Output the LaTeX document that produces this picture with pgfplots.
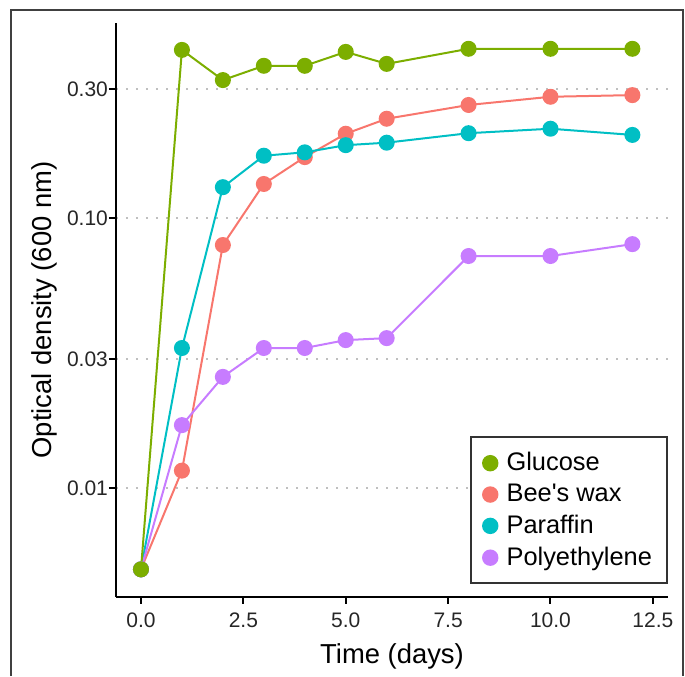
\documentclass[border=0pt]{standalone}
\usepackage{fontspec}
\setmainfont{Liberation Sans}
\usepackage{pgfplots}
\pgfplotsset{compat=1.18}
\definecolor{cG}{HTML}{7CAE00}
\definecolor{cB}{HTML}{F8766D}
\definecolor{cP}{HTML}{00BFC4}
\definecolor{cY}{HTML}{C77CFF}
\begin{document}
\begin{tikzpicture}[x=1pt,y=1pt]
\useasboundingbox (0,0) rectangle (342.5,338);
\draw[line width=1pt, gray!50!black] (5.5,0) -- (5.5,333) -- (341.5,333) -- (341.5,0);
\begin{axis}[
  at={(58pt,39.5pt)}, anchor=south west,
  scale only axis, width=276pt, height=287pt,
  xmin=-0.61, xmax=12.87,
  ymode=log, ymin=0.00395, ymax=0.527,
  axis x line*=bottom, axis y line*=left,
  axis line style={line width=1pt, -},
  xtick={0,2.5,5,7.5,10,12.5},
  xticklabels={0.0,2.5,5.0,7.5,10.0,12.5},
  ytick={0.01,0.03,0.1,0.3},
  yticklabels={0.01,0.03,0.10,0.30},
  yminorticks=false, xminorticks=false,
  tick align=outside, major tick length=3.5pt,
  tick style={line width=1pt, black},
  /pgf/number format/assume math mode=true,
  ticklabel style={font=\fontsize{10.5}{12}\selectfont, text=black!85},
  xticklabel style={yshift=-1pt},
  yticklabel style={xshift=3pt},
  xlabel={Time (days)}, ylabel={Optical density (600 nm)},
  label style={font=\fontsize{13.7}{15}\selectfont},
  xlabel style={yshift=-1pt},
  ylabel style={yshift=-2pt},
  ymajorgrids,
  major grid style={gray!50, line width=0.8pt, dash pattern=on 0.8pt off 4.2pt},
  every axis plot/.append style={line width=1pt, mark=*, mark size=3.5pt},
  legend image code/.code={\path[draw=none,fill=none] (0pt,0pt) -- (9pt,0pt); \fill[#1] (2.85pt,0pt) circle (3.6pt);},
  legend style={at={(1.0,0.022)}, anchor=south east, draw=gray!40!black, line width=1pt,
    fill=white, font=\fontsize{12.7}{14}\selectfont, row sep=1.2pt, inner xsep=5.5pt, inner ysep=5.5pt},
  legend cell align=left,
]
\addlegendimage{cG, fill=cG}
\addlegendimage{cB, fill=cB}
\addlegendimage{cP, fill=cP}
\addlegendimage{cY, fill=cY}
\addplot[cB, mark options={fill=cB}, forget plot] coordinates {
 (0,0.005) (1,0.0116) (2,0.0794) (3,0.1336) (4,0.168) (5,0.205) (6,0.233) (8,0.262) (10,0.281) (12,0.285)};
\addplot[cP, mark options={fill=cP}, forget plot] coordinates {
 (0,0.005) (1,0.033) (2,0.130) (3,0.170) (4,0.175) (5,0.186) (6,0.190) (8,0.206) (10,0.214) (12,0.203)};
\addplot[cY, mark options={fill=cY}, forget plot] coordinates {
 (0,0.005) (1,0.0171) (2,0.0258) (3,0.033) (4,0.033) (5,0.0353) (6,0.0359) (8,0.0723) (10,0.0723) (12,0.080)};
\addplot[cG, mark options={fill=cG}, forget plot] coordinates {
 (0,0.005) (1,0.419) (2,0.324) (3,0.366) (4,0.366) (5,0.412) (6,0.372) (8,0.423) (10,0.423) (12,0.423)};
\legend{Glucose, Bee\textquotesingle s wax, Paraffin, Polyethylene}
\end{axis}
\end{tikzpicture}
\end{document}
